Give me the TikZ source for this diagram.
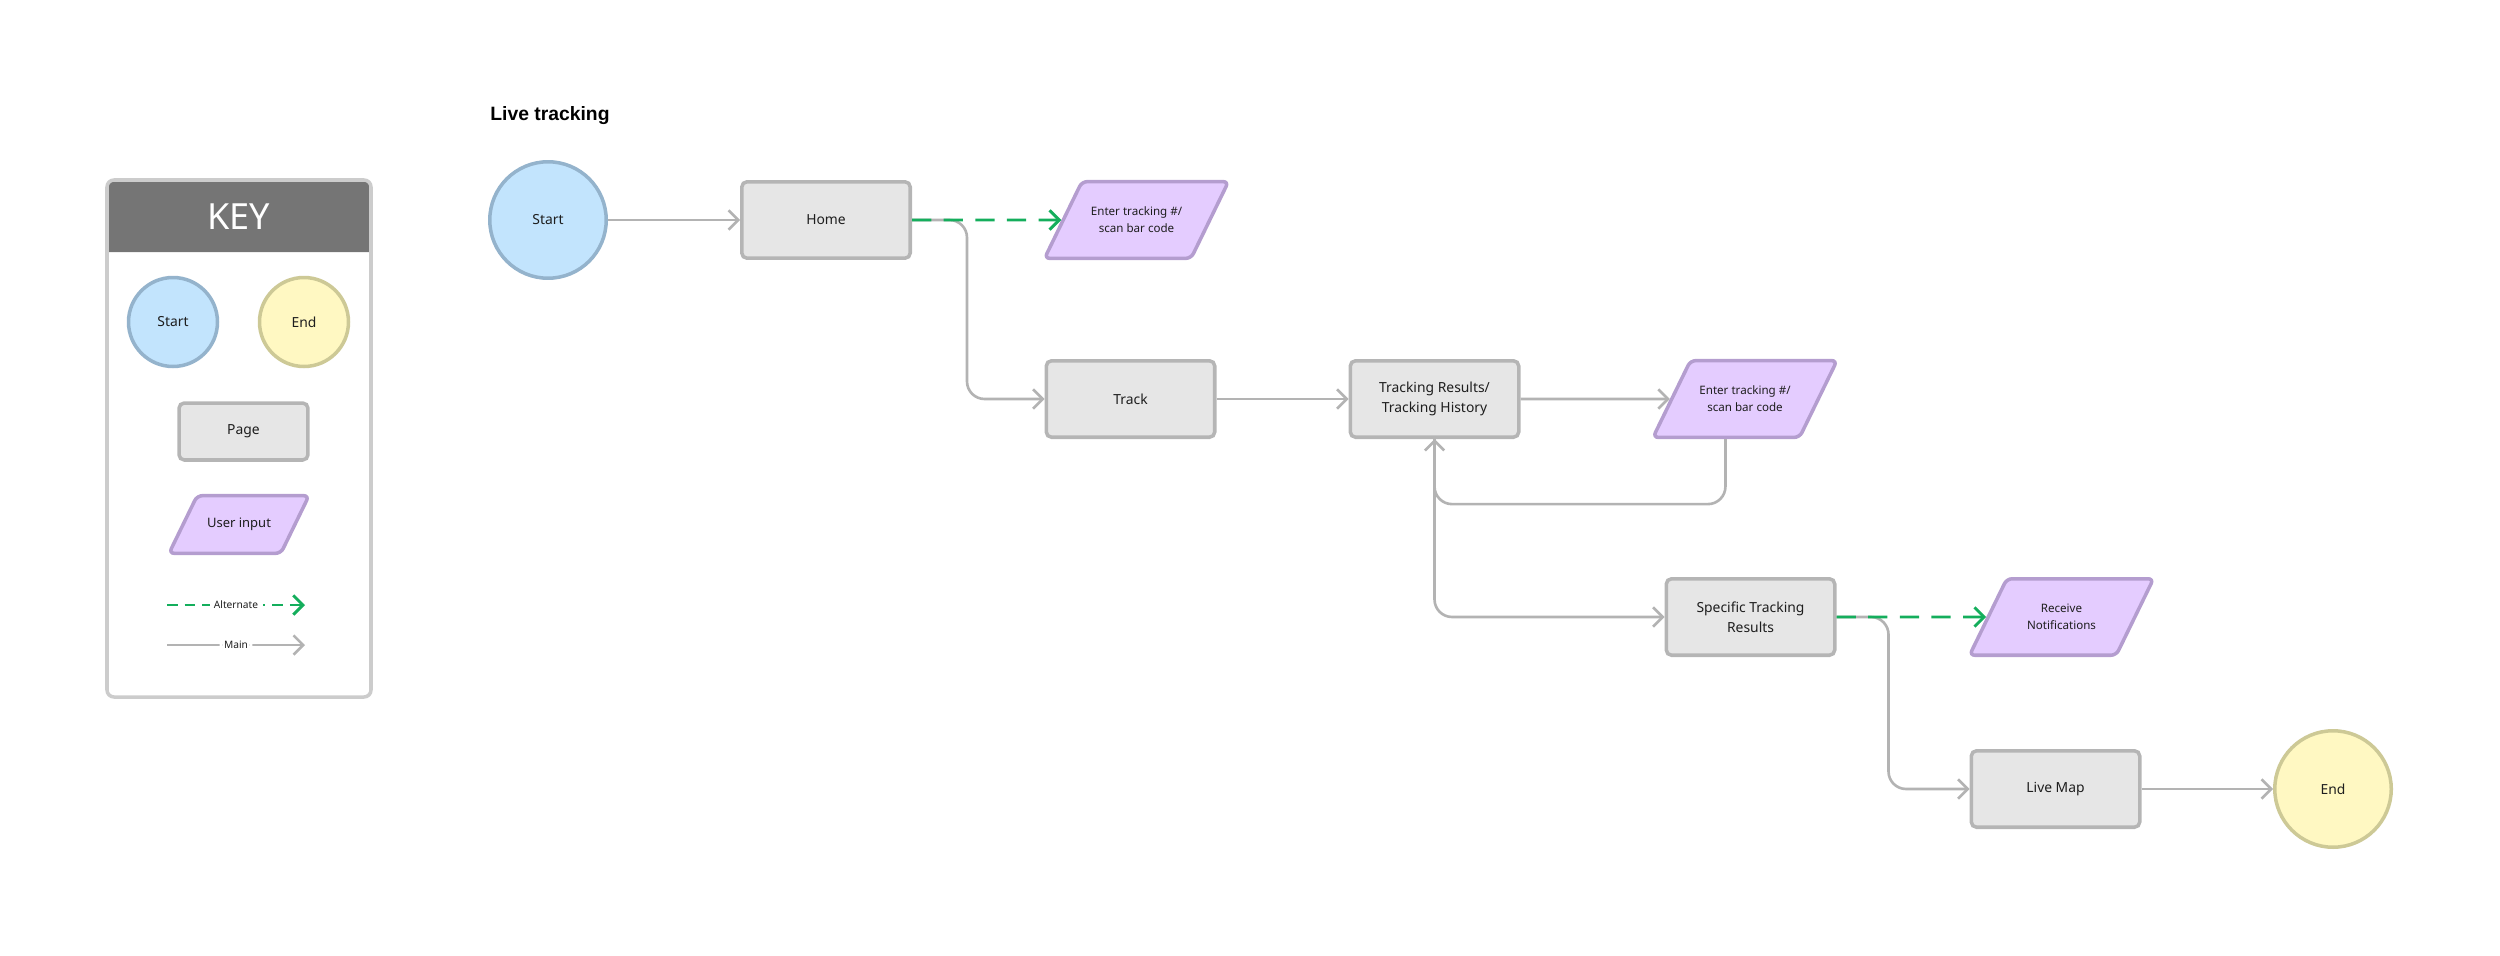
\documentclass[tikz,border=0pt]{standalone}
\usepackage{fontspec}
\setmainfont{Noto Sans}
\newfontfamily\headfont{Liberation Sans}
\definecolor{StartBlue}{HTML}{C2E4FD}
\definecolor{StartEdge}{HTML}{94B3CC}
\definecolor{EndYellow}{HTML}{FFF8C2}
\definecolor{EndEdge}{HTML}{CDC996}
\definecolor{PageGray}{HTML}{E6E6E6}
\definecolor{PageEdge}{HTML}{B5B5B5}
\definecolor{InputLilac}{HTML}{E4CCFF}
\definecolor{InputEdge}{HTML}{B49DCF}
\definecolor{AltGreen}{HTML}{14AE5C}
\definecolor{LineGray}{HTML}{B3B3B3}
\definecolor{KeyGray}{HTML}{757575}
\definecolor{KeyFrame}{HTML}{CCCCCC}
\definecolor{InkGray}{HTML}{1E1E1E}
\usetikzlibrary{arrows.meta,shapes.geometric}
\tikzset{
  nodeFont/.style={font=\fontsize{7.9}{11.2}\selectfont, text=InkGray},
  startNode/.style={circle, draw=StartEdge, line width=2pt, fill=StartBlue, minimum size=2.33cm, inner sep=0pt, nodeFont},
  endNode/.style={circle, draw=EndEdge, line width=2pt, fill=EndYellow, minimum size=2.33cm, inner sep=0pt, nodeFont},
  pageNode/.style={rectangle, draw=PageEdge, line width=2pt, fill=PageGray, rounded corners=3pt, minimum width=3.37cm, minimum height=1.53cm, align=center, nodeFont},
  inputNode/.style={trapezium, trapezium left angle=64, trapezium right angle=116, trapezium stretches body=true, draw=InputEdge, line width=2pt, fill=InputLilac, rounded corners=3pt, minimum width=3.68cm, minimum height=1.53cm, inner xsep=0pt, inner ysep=14.4pt, align=center, font=\fontsize{6.6}{9.8}\selectfont, text=InkGray},
  mainEdge/.style={-{Straight Barb[length=5.5pt,width=11pt]}, draw=LineGray, line width=1.5pt, rounded corners=10pt},
  altEdge/.style={-{Straight Barb[length=5.5pt,width=11pt]}, draw=AltGreen, line width=1.7pt, dash pattern=on 11pt off 7pt},
  keyLabel/.style={fill=white, inner sep=2.5pt, font=\fontsize{5.8}{6.5}\selectfont, text=InkGray}
}
\begin{document}
\begin{tikzpicture}[x=0.02cm,y=-0.02cm]
  \useasboundingbox (0,0) rectangle (2500,956);

  % key
  \fill[KeyGray] (107,252) {[rounded corners=4pt] -- (107,180) -- (371,180)} -- (371,252) -- cycle;
  \draw[KeyFrame, line width=2pt, rounded corners=4pt] (107,180) rectangle (371,697);
  \node[font=\fontsize{20.5}{21}\selectfont, text=white] (keyTitle) at (239,217) {KEY};

  \node[startNode, minimum size=1.78cm] (keyStart) at (173,322) {Start};
  \node[endNode, minimum size=1.78cm] (keyEnd) at (304,322) {End};
  \node[pageNode, minimum width=2.58cm, minimum height=1.14cm] (keyPage) at (243.5,431.5) {Page};
  \node[inputNode, minimum width=2.8cm, minimum height=1.14cm, inner ysep=12.8pt, font=\fontsize{7.4}{9}\selectfont] (keyInput) at (239,524.5) {User input};

  \coordinate (altFrom) at (167,605);
  \coordinate (altTo) at (305,605);
  \coordinate (mainFrom) at (167,645);
  \coordinate (mainTo) at (305,645);
  \draw[altEdge, dash pattern=on 6pt off 4pt] (altFrom) -- node[keyLabel] {Alternate} (altTo);
  \draw[mainEdge] (mainFrom) -- node[keyLabel] {Main} (mainTo);

  % flow
  \node[anchor=base west, inner sep=0pt, font=\headfont\fontsize{11}{12}\selectfont\bfseries, text=black] (title) at (490,121) {Live tracking};

  \node[startNode] (start) at (548,220) {Start};
  \node[pageNode] (home) at (826,220) {Home};
  \node[inputNode] (enterA) at (1136.5,220) {Enter tracking \#/\\scan bar code};

  \node[pageNode] (track) at (1130.5,399) {Track};
  \node[pageNode] (results) at (1434.5,399) {Tracking Results/\\Tracking History};
  \node[inputNode] (enterB) at (1745,399) {Enter tracking \#/\\scan bar code};

  \node[pageNode] (specific) at (1750.5,617) {Specific Tracking\\Results};
  \node[inputNode] (notify) at (2061.5,617) {Receive\\Notifications};

  \node[pageNode] (liveMap) at (2055.5,789) {Live Map};
  \node[endNode] (finish) at (2333,789) {End};

  \draw[mainEdge] (start) -- (home);
  \draw[mainEdge] (home.east) -- ++(55,0) |- (track.west);
  \draw[altEdge] (home) -- (enterA);
  \draw[mainEdge] (track) -- (results);
  \draw[mainEdge] (results) -- (enterB);
  \draw[mainEdge] (enterB.bottom side) -- ++(0,65) -| (results.south);
  \draw[mainEdge] (results.south) |- (specific.west);
  \draw[mainEdge] (specific.east) -- ++(52,0) |- (liveMap.west);
  \draw[altEdge] (specific) -- (notify);
  \draw[mainEdge] (liveMap) -- (finish);
\end{tikzpicture}
\end{document}
